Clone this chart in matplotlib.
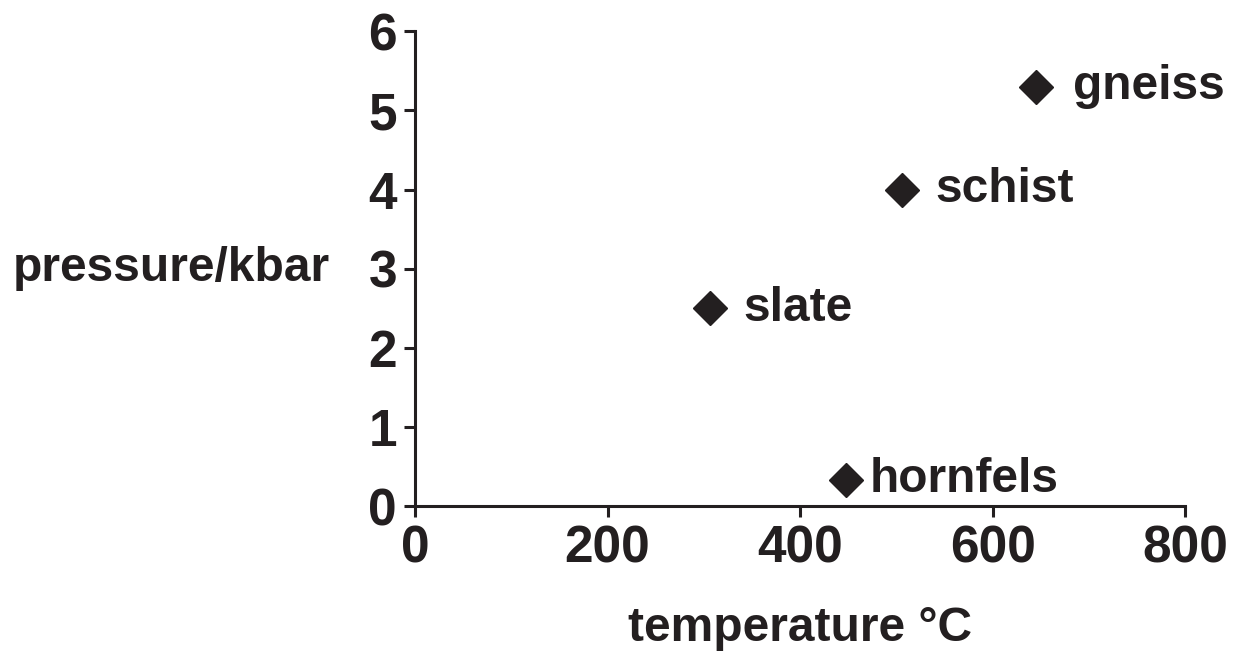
import matplotlib
matplotlib.use('Agg')
from matplotlib import pyplot as plt

rocks = ['gneiss', 'schist', 'slate', 'hornfels']
temperature = [645, 506, 306, 448]
pressure = [5.3, 4.0, 2.5, 0.33]
label_gap = [27, 24, 24, 17]  # points from marker to text

x_ticks = [0, 200, 400, 600, 800]
y_ticks = [0, 1, 2, 3, 4, 5, 6]

ink = '#231f20'
plt.rcParams['font.family'] = ['Liberation Sans', 'DejaVu Sans']
plt.rcParams['font.weight'] = 'bold'

fig = plt.figure(figsize=(12.39, 6.51), dpi=100)
ax = fig.add_axes([0.335, 0.2227, 0.6215, 0.7293])

ax.plot(temperature, pressure, linestyle='none', marker='D', markersize=17,
        color=ink, clip_on=False)
for name, t, p, gap in zip(rocks, temperature, pressure, label_gap):
    ax.annotate(name, (t, p), xytext=(gap, 0), textcoords='offset points',
                ha='left', va='center', fontsize=34.5, fontweight='bold', color=ink)

ax.set_xlim(0, 800)
ax.set_ylim(0, 6)
ax.set_xticks(x_ticks)
ax.set_yticks(y_ticks)

for side in ['top', 'right']:
    ax.spines[side].set_visible(False)
for side in ['left', 'bottom']:
    ax.spines[side].set_linewidth(2.2)
    ax.spines[side].set_color(ink)

ax.tick_params(axis='both', direction='out', length=8, width=2.2, color=ink,
               labelsize=37, labelcolor=ink, pad=5)
for lbl in ax.get_xticklabels() + ax.get_yticklabels():
    lbl.set_fontweight('bold')

ax.set_xlabel('temperature \u00b0C', fontsize=34.5, fontweight='bold', color=ink, labelpad=24)
ax.set_ylabel('pressure/kbar', fontsize=34.5, fontweight='bold', color=ink,
              rotation=0, ha='right', va='center')
ax.yaxis.set_label_coords(-0.11, 0.5)

fig.savefig('out.png', dpi=100)
